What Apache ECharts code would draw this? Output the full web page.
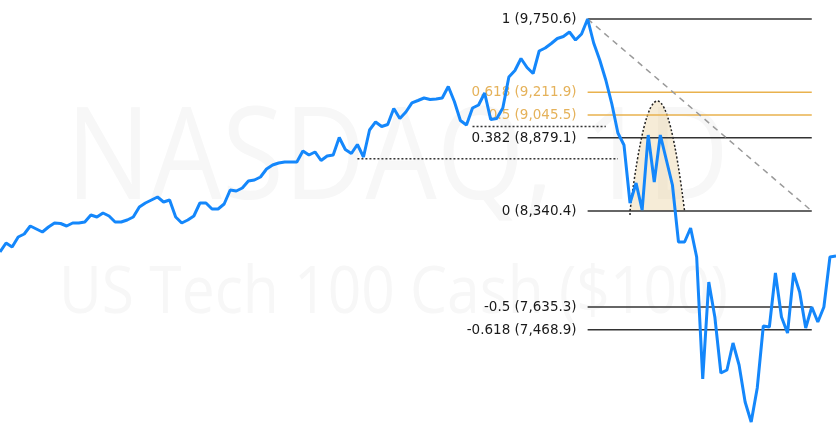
<!DOCTYPE html>
<html><head><meta charset="utf-8">
<script src="https://cdn.jsdelivr.net/npm/echarts@6/dist/echarts.min.js"></script>
<style>html,body{margin:0;padding:0;background:#fff}#c{width:836px;height:424px}</style>
</head><body><div id="c"></div><script>
// ---- data ----
const prices = [
8039.2, 8105.3, 8075.9, 8149.4, 8171.4, 8230.2, 8208.1, 8186.1, 8222.8, 8252.2,
8248.5, 8230.2, 8252.2, 8252.2, 8259.6, 8311.0, 8296.3, 8325.7, 8303.7, 8259.6,
8259.6, 8274.3, 8296.3, 8369.8, 8399.1, 8421.2, 8443.2, 8406.5, 8421.2, 8296.3,
8252.2, 8274.3, 8303.7, 8399.1, 8399.1, 8355.1, 8355.1, 8391.8, 8494.6, 8487.3,
8509.3, 8560.7, 8568.1, 8590.1, 8648.9, 8678.3, 8692.9, 8700.3, 8700.3, 8700.3,
8781.3, 8751.9, 8773.9, 8711.3, 8744.5, 8751.9, 8880.4, 8792.3, 8762.9, 8829.0,
8737.0, 8935.3, 8994.4, 8961.0, 8975.7, 9093.2, 9019.8, 9067.5, 9134.0, 9152.0,
9170.3, 9159.3, 9163.0, 9170.3, 9254.8, 9144.6, 9005.1, 8972.0, 9096.9, 9118.9,
9207.0, 9012.4, 9019.8, 9096.9, 9324.6, 9372.3, 9460.5, 9394.4, 9350.3, 9515.5,
9537.6, 9570.6, 9607.4, 9622.0, 9655.1, 9596.3, 9640.4, 9750.6, 9574.3, 9449.4,
9302.5, 9126.3, 8913.3, 8825.1, 8399.1, 8546.0, 8347.7, 8898.6, 8553.4, 8898.6,
8715.0, 8531.4, 8112.7, 8112.7, 8215.5, 8002.5, 7106.5, 7818.9, 7561.9, 7150.6,
7172.6, 7370.9, 7209.3, 6937.6, 6790.7, 7040.4, 7495.8, 7488.4, 7885.0, 7561.9,
7444.4, 7885.0, 7745.5, 7481.0, 7635.3, 7525.1, 7635.3, 8002.5, 8009.8
];
const days = prices.map((_, i) => 'D' + (i + 1));

const fibRatios = [1, 0.618, 0.5, 0.382, 0, -0.5, -0.618];
const fibValues = [9750.6, 9211.9, 9045.5, 8879.1, 8340.4, 7635.3, 7468.9];
const goldRatios = [0.618, 0.5];
const fibFrom = 97, fibTo = 134;

const supportValues = [8961.0, 8724.0];
const supportFrom = [78, 59];
const supportTo = [100, 102];

const archFrom = 104, archTo = 113, archPeak = 9148.0;

const watermarkTitle = 'NASDAQ, 1D';
const watermarkSub = 'US Tech 100 Cash ($100)';

// ---- helpers ----
function fmt(v) {
  const s = v.toFixed(1).split('.');
  return s[0].replace(/\B(?=(\d{3})+(?!\d))/g, ',') + '.' + s[1];
}
const fibLabels = fibRatios.map((r, i) => r + ' (' + fmt(fibValues[i]) + ')');

const chart = echarts.init(document.getElementById('c'), null, {renderer: 'canvas'});

function renderAnnotations(params, api) {
  const children = [];
  const p1 = api.coord([fibFrom, fibValues[0]]);
  const p2 = api.coord([fibTo, fibValues[4]]);
  // arch
  const a0 = api.coord([archFrom, fibValues[4]]);
  const a1 = api.coord([archTo, fibValues[4]]);
  const ap = api.coord([(archFrom + archTo) / 2, archPeak]);
  const cy = 2 * ap[1] - a0[1];
  const cx = (a0[0] + a1[0]) / 2;
  children.push({type: 'path', shape: {pathData: 'M' + a0[0] + ' ' + a0[1] + ' Q' + cx + ' ' + cy + ' ' + a1[0] + ' ' + a1[1] + ' Z'},
    style: {fill: 'rgba(230,200,140,0.35)', stroke: null}});
  children.push({type: 'path', shape: {pathData: 'M' + a0[0] + ' ' + (a0[1] + 4) + ' L' + a0[0] + ' ' + a0[1] + ' Q' + cx + ' ' + cy + ' ' + a1[0] + ' ' + a1[1]},
    style: {fill: null, stroke: '#222', lineWidth: 1.5, lineDash: [2, 2]}});
  // support dotted lines
  supportValues.forEach((v, k) => {
    const s = api.coord([supportFrom[k], v]);
    const e = api.coord([supportTo[k], v]);
    children.push({type: 'line', shape: {x1: s[0], y1: s[1], x2: e[0], y2: e[1]},
      style: {stroke: '#333', lineWidth: 1.5, lineDash: [2, 2]}});
  });
  // fib levels
  fibValues.forEach((v, k) => {
    const s = api.coord([fibFrom, v]);
    const e = api.coord([fibTo, v]);
    const gold = goldRatios.indexOf(fibRatios[k]) >= 0;
    children.push({type: 'line', shape: {x1: s[0], y1: s[1], x2: e[0], y2: e[1]},
      style: {stroke: gold ? '#E9B24E' : '#333333', lineWidth: 1.5}});
    children.push({type: 'text', x: s[0] - 11, y: s[1] + 0.5,
      style: {text: fibLabels[k], align: 'right', verticalAlign: 'middle',
        fill: gold ? '#E5B25A' : '#1a1a1a', font: '13.5px "DejaVu Sans"'}});
  });
  children.push({type: 'line', shape: {x1: p1[0], y1: p1[1], x2: p2[0], y2: p2[1]},
    style: {stroke: '#9a9a9a', lineWidth: 1.5, lineDash: [6, 5]}});
  return {type: 'group', children: children};
}

chart.setOption({
  animation: false,
  backgroundColor: '#fff',
  graphic: [
    {type: 'text', x: 66, y: 163, scaleX: 0.88, z: 0, silent: true,
      style: {text: watermarkTitle, font: '128px "Open Sans"', fill: '#f7f7f7', align: 'left', verticalAlign: 'middle'}},
    {type: 'text', x: 59, y: 294, scaleX: 0.89, z: 0, silent: true,
      style: {text: watermarkSub, font: '66px "Open Sans"', fill: '#f7f7f7', align: 'left', verticalAlign: 'middle'}}
  ],
  grid: {left: -2.1, right: -4.1, top: 0, bottom: 0},
  xAxis: {type: 'category', data: days, boundaryGap: false, show: false},
  yAxis: {type: 'value', min: 6776, max: 9890.1, show: false},
  series: [
    {type: 'custom', z: 3, silent: true, clip: false,
      data: [[fibFrom, fibValues[0]]], renderItem: renderAnnotations},
    {type: 'line', z: 5, data: prices, showSymbol: false, symbol: 'none', silent: true,
      lineStyle: {color: '#1487fb', width: 3}}
  ]
});
</script></body></html>
